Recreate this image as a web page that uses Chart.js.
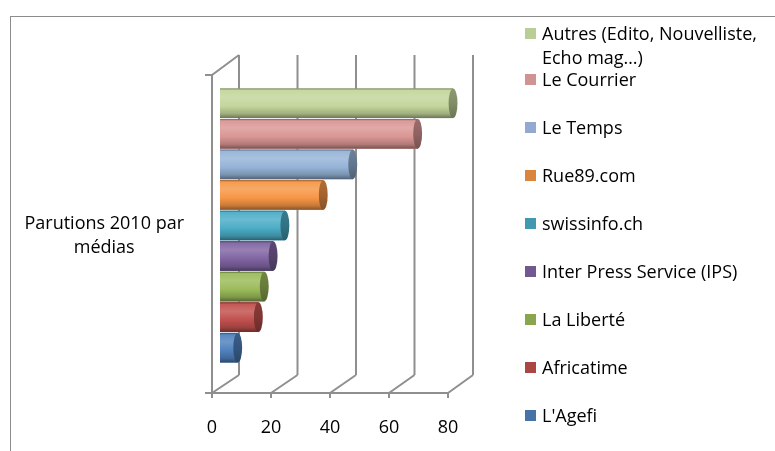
<!DOCTYPE html>
<html><head><meta charset="utf-8">
<script src="https://cdn.jsdelivr.net/npm/chart.js@4/dist/chart.umd.min.js"></script>
<style>
html,body{margin:0;padding:0;background:#fff;}
#wrap{position:relative;width:775px;height:451px;overflow:hidden;font-family:"Open Sans",sans-serif;}
#frame{position:absolute;left:10px;top:16px;width:900px;height:600px;border-left:1px solid #8c8c8c;border-top:1px solid #8c8c8c;}
#c{position:absolute;left:0;top:0;}
.item{position:absolute;left:542px;width:236px;font-size:18px;line-height:24px;color:#000;}
.sw{position:absolute;left:525px;width:11px;height:11px;}
</style></head>
<body><div id="wrap"><div id="frame"></div><canvas id="c" width="775" height="451"></canvas><div id="legend"></div></div>
<script>
// ---- data ----
const categories = [["Parutions 2010 par", "médias"]];
const seriesNames = ["Autres (Edito, Nouvelliste, Echo mag…)", "Le Courrier", "Le Temps", "Rue89.com", "swissinfo.ch", "Inter Press Service (IPS)", "La Liberté", "Africatime", "L'Agefi"];
const seriesValues = [79, 67, 45, 35, 22, 18, 15, 13, 6];
const xTicks = [0, 20, 40, 60, 80];

// ---- styles ----
const FONT = "'Open Sans'";
const swatchColors = ["#B9CD96", "#D19392", "#93A9CF", "#DB843D", "#4198AF", "#71588F", "#89A54E", "#AA4643", "#4572A7"];
const bodyColors = ["#C3D69B", "#D99694", "#95B3D7", "#F79646", "#4BACC6", "#8064A2", "#9BBB59", "#C0504D", "#4F81BD"];

function hexToRgb(h){h=h.replace('#','');return [parseInt(h.substr(0,2),16),parseInt(h.substr(2,2),16),parseInt(h.substr(4,2),16)];}
function shade(h,f){const c=hexToRgb(h).map(v=>Math.round(Math.max(0,Math.min(255,v*f))));return `rgb(${c[0]},${c[1]},${c[2]})`;}
function tint(h,t){const c=hexToRgb(h).map(v=>Math.round(v+(255-v)*t));return `rgb(${c[0]},${c[1]},${c[2]})`;}

const GRID = '#8f8f8f';
const perspectivePlugin = {
  id: 'persp',
  beforeDatasetsDraw(chart){
    const {ctx, chartArea:a, scales:{x}} = chart;
    const fy = a.bottom + 8, by = a.bottom - 10, fTop = a.top + 9, bTop = a.top - 11;
    ctx.save();
    ctx.strokeStyle = GRID; ctx.lineWidth = 2;
    const L = (x1,y1,x2,y2)=>{ctx.beginPath();ctx.moveTo(x1,y1);ctx.lineTo(x2,y2);ctx.stroke();};
    xTicks.forEach(v=>{
      const p = x.getPixelForValue(v);
      const bx = p + 19 - 2*v/80;
      L(bx, bTop, bx, by);
      L(p-8, fy, bx, by);
      L(p-8, fy, p-8, fy+5);
    });
    const p0 = x.getPixelForValue(xTicks[0]);
    const pN = x.getPixelForValue(xTicks[xTicks.length-1]);
    L(p0-15, fy, pN-8, fy);
    L(p0-8, fTop, p0-8, fy);
    L(p0-8, fTop, p0+19, bTop);
    L(p0-15, fTop, p0-8, fTop);
    ctx.restore();
  },
  afterDatasetsDraw(chart){
    const ctx = chart.ctx;
    ctx.save();
    chart.data.datasets.forEach((ds,i)=>{
      const meta = chart.getDatasetMeta(i);
      const col = bodyColors[i];
      meta.data.forEach(el=>{
        const {x:xr, y, base, height:h} = el.getProps(['x','y','base','height'], true);
        const top = y - h/2, bot = y + h/2, rx = h*0.15;
        const g = ctx.createLinearGradient(0, top, 0, bot);
        g.addColorStop(0, shade(col,0.6));
        g.addColorStop(0.06, tint(col,0.05));
        g.addColorStop(0.3, tint(col,0.18));
        g.addColorStop(0.6, col);
        g.addColorStop(0.85, shade(col,0.82));
        g.addColorStop(1, shade(col,0.55));
        ctx.fillStyle = g;
        ctx.fillRect(base, top, xr - base, h);
        const gc = ctx.createLinearGradient(0, top, 0, bot);
        gc.addColorStop(0, shade(col,0.72));
        gc.addColorStop(0.5, shade(col,0.66));
        gc.addColorStop(1, shade(col,0.55));
        ctx.fillStyle = gc;
        ctx.beginPath();
        ctx.ellipse(xr, y, rx, h/2, 0, 0, Math.PI*2);
        ctx.fill();
      });
    });
    ctx.restore();
  }
};

const datasets = seriesNames.map((n,i)=>({
  label: n,
  data: [seriesValues[i]],
  backgroundColor: bodyColors[i],
  borderWidth: 0,
  categoryPercentage: 0.862,
  barPercentage: 0.97
}));

new Chart(document.getElementById('c'), {
  type: 'bar',
  data: { labels: categories, datasets },
  options: {
    indexAxis: 'y',
    responsive: false,
    animation: false,
    layout: { padding: { left: 0, top: 66, right: 319, bottom: 0 } },
    plugins: { legend: { display: false }, tooltip: { enabled: false } },
    scales: {
      x: {
        min: xTicks[0], max: xTicks[xTicks.length-1],
        afterBuildTicks(s){ s.ticks = xTicks.map(v=>({value:v})); },
        afterFit(s){ s.height = 66; },
        grid: { display: false }, border: { display: false },
        ticks: { padding: 24, labelOffset: -8, color: '#000', font: { family: FONT, size: 18 } }
      },
      y: {
        afterFit(s){ s.width = 220; },
        grid: { display: false }, border: { display: false },
        ticks: { crossAlign: 'center', padding: 28, labelOffset: 10, color: '#000', font: { family: FONT, size: 18, lineHeight: 1.33 } }
      }
    }
  },
  plugins: [perspectivePlugin]
});

// HTML legend built from the series arrays
const leg = document.getElementById('legend');
seriesNames.forEach((n,i)=>{
  const cy = i === 0 ? 33 : 79 + 48*(i-1);
  const sw = document.createElement('div');
  sw.className = 'sw'; sw.style.top = (cy - 5.5) + 'px'; sw.style.background = swatchColors[i];
  const t = document.createElement('div');
  t.className = 'item'; t.style.top = (cy - 12) + 'px'; t.textContent = n;
  leg.appendChild(sw); leg.appendChild(t);
});
</script>
</body></html>
